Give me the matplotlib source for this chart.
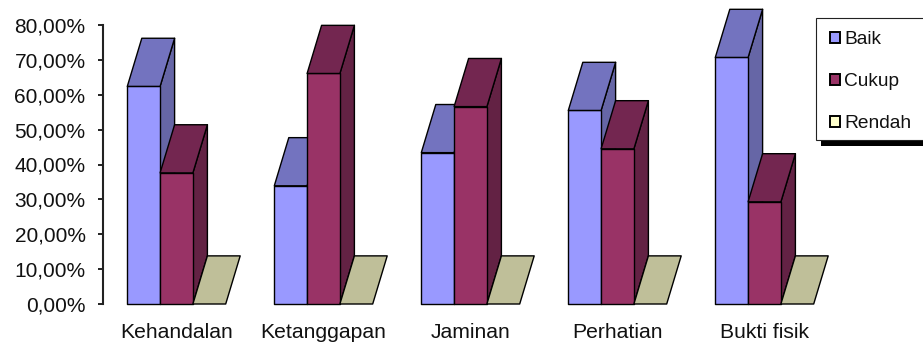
import matplotlib
matplotlib.use("Agg")
import matplotlib.pyplot as plt
from matplotlib.patches import Polygon, Rectangle

plt.rcParams['font.family'] = ['Liberation Sans', 'DejaVu Sans']

categories = ['Kehandalan', 'Ketanggapan', 'Jaminan', 'Perhatian', 'Bukti fisik']
baik = [62.4, 33.9, 43.4, 55.5, 70.7]
cukup = [37.6, 66.1, 56.6, 44.5, 29.3]
rendah = [0.0, 0.0, 0.0, 0.0, 0.0]
series_names = ['Baik', 'Cukup', 'Rendah']
y_ticks = [0, 10, 20, 30, 40, 50, 60, 70, 80]

front = ['#9999FF', '#993366', '#FFFFCC']
top = ['#7373BF', '#732650', '#BFBF99']
side = ['#6666A6', '#632244', '#A6A685']

W, H = 923, 342
fig = plt.figure(figsize=(W / 100, H / 100), dpi=100)
ax = fig.add_axes([103 / W, (H - 304) / H, 735 / W, 279 / H])
ax.set_xlim(0, 5)
ax.set_ylim(0, 80)

# Oblique extrusion of each column, in data units
depth_x = 14.5 / 147
depth_y = 13.8
bar_w = 32.8 / 147
edge = dict(edgecolor='#000000', linewidth=1.0, joinstyle='round', clip_on=False)

for g in range(len(categories)):
    values = [baik[g], cukup[g], rendah[g]]
    left = g + 0.5 - 1.5 * bar_w
    for s, v in enumerate(values):
        x0 = left + s * bar_w
        x1 = x0 + bar_w
        if v > 0:
            ax.add_patch(Polygon([(x1, 0), (x1 + depth_x, depth_y),
                                  (x1 + depth_x, v + depth_y), (x1, v)],
                                 facecolor=side[s], **edge))
            ax.add_patch(Rectangle((x0, 0), bar_w, v, facecolor=front[s], **edge))
        ax.add_patch(Polygon([(x0, v), (x1, v), (x1 + depth_x, v + depth_y),
                              (x0 + depth_x, v + depth_y)],
                             facecolor=top[s], **edge))

for name in ('top', 'right', 'bottom'):
    ax.spines[name].set_visible(False)
ax.spines['left'].set_linewidth(1.5)
ax.spines['left'].set_color('#222222')

ax.set_yticks(y_ticks)
ax.set_yticklabels([f'{t},00%' for t in y_ticks], fontsize=15, color='#111111')
ax.tick_params(axis='y', length=3.6, width=1.4, color='#222222', pad=9)
ax.set_xticks([i + 0.5 for i in range(len(categories))])
ax.set_xticklabels(categories, fontsize=15.2, color='#111111')
ax.tick_params(axis='x', length=0, pad=13.5)

# Legend box with a hard drop shadow running off the right edge
to_fig = lambda x, y: (x / W, (H - y) / H)
fig.add_artist(Rectangle(to_fig(821, 146), 110 / W, 122 / H, transform=fig.transFigure,
                         facecolor='#000000', edgecolor='none'))
fig.add_artist(Rectangle(to_fig(816, 140), 115 / W, 122 / H, transform=fig.transFigure,
                         facecolor='#FFFFFF', edgecolor='#222222', linewidth=0.8))

handles = [Rectangle((0, 0), 1, 1, facecolor=front[i], edgecolor='#000000', linewidth=1.4)
           for i in range(3)]
leg = fig.legend(handles, series_names, loc='upper left',
                 bbox_to_anchor=to_fig(830, 31.5), bbox_transform=fig.transFigure,
                 frameon=False, fontsize=13.8, handlelength=0.53, handleheight=0.53,
                 handletextpad=0.2, labelspacing=1.3, borderpad=0, borderaxespad=0)
for text in leg.get_texts():
    text.set_color('#111111')

fig.savefig('out.png', dpi=100)
